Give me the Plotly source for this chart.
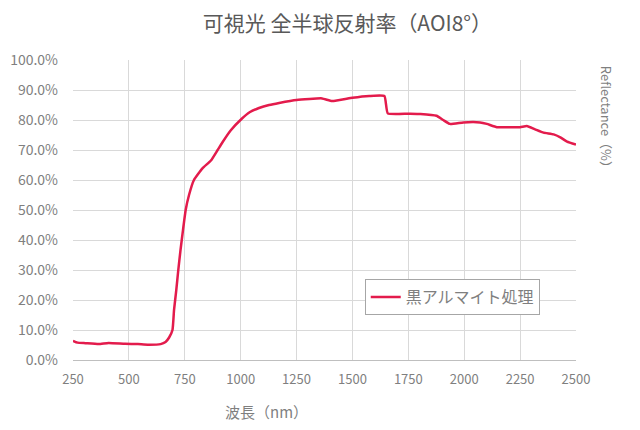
import plotly.graph_objects as go

# 波長 (nm) と 反射率 (%)
wavelength = [250, 270, 306, 365, 409, 482, 540, 584, 642, 664, 680, 695, 702, 712, 721,
              731, 742, 754, 769, 791, 829, 867, 897, 918, 955, 1006, 1040, 1082, 1127,
              1172, 1250, 1364, 1409, 1500, 1575, 1643, 1658, 1750, 1804, 1876, 1906,
              1936, 1996, 2071, 2101, 2146, 2205, 2250, 2280, 2317, 2355, 2400, 2430,
              2460, 2500]
reflectance = [6.4, 5.8, 5.6, 5.3, 5.7, 5.4, 5.3, 5.1, 5.3, 6.0, 7.5, 10.0, 16.7, 23.3, 30.0,
               36.7, 43.3, 50.0, 55.0, 60.0, 63.9, 66.5, 70.0, 72.5, 76.5, 80.5, 82.6, 84.0, 85.0,
               85.7, 86.7, 87.2, 86.3, 87.4, 88.0, 88.0, 82.2, 82.1, 82.0, 81.4, 80.0,
               78.7, 79.2, 79.2, 78.7, 77.6, 77.6, 77.6, 78.0, 76.9, 75.8, 75.2, 74.2,
               72.8, 71.8]

x_ticks = [250, 500, 750, 1000, 1250, 1500, 1750, 2000, 2250, 2500]
y_ticks = [0, 10, 20, 30, 40, 50, 60, 70, 80, 90, 100]
y_labels = [f"{v:.1f}%" for v in y_ticks]

FONT = "Noto Sans CJK JP"
GRAY = "#7f7f7f"

fig = go.Figure()
fig.add_trace(go.Scatter(
    x=wavelength, y=reflectance, mode="lines", name="黒アルマイト処理",
    line=dict(color="#e31b4c", width=2.5, shape="spline", smoothing=0.4),
))

# ページ余白 (8px) を考慮したサイズ
fig.update_layout(
    width=632, height=422,
    margin=dict(l=65, r=64, t=52, b=70),
    paper_bgcolor="white", plot_bgcolor="white",
    font=dict(family=FONT, color=GRAY, size=13),
    title=dict(text="可視光 全半球反射率（AOI8°）", x=0.537, xanchor="center",
               y=0.962, yanchor="middle",
               font=dict(family=FONT, size=21, color="#595959")),
    showlegend=True,
    legend=dict(x=0.58, y=0.21, xanchor="left", yanchor="middle",
                bordercolor="#a6a6a6", borderwidth=1, bgcolor="white",
                font=dict(family=FONT, size=16, color=GRAY)),
)

fig.update_xaxes(range=[250, 2500], tickvals=x_ticks, showgrid=True,
                 gridcolor="#d9d9d9", showline=True, linecolor="#bfbfbf",
                 tickfont=dict(size=13, color=GRAY), zeroline=False,
                 ticklabelstandoff=7, automargin=False)
fig.update_yaxes(range=[0, 100], tickvals=y_ticks, ticktext=y_labels,
                 showgrid=True, gridcolor="#d9d9d9", zeroline=False,
                 tickfont=dict(size=14, color=GRAY), ticklabelstandoff=14,
                 automargin=False)

fig.add_annotation(text="波長（nm）", xref="paper", yref="paper", x=0.385, y=-0.13,
                   showarrow=False, yanchor="top", font=dict(size=15, color=GRAY))
fig.add_annotation(text="Reflectance（%）", xref="paper", yref="paper", x=1.06, y=0.80,
                   xanchor="center", yanchor="middle",
                   showarrow=False, textangle=90, font=dict(size=13, color=GRAY))

fig.write_html("out.html")
